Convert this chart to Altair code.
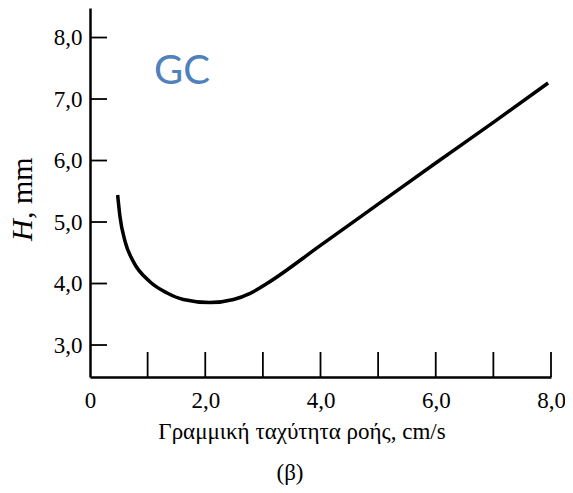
import altair as alt
import pandas as pd

# Van Deemter curve
flow = [0.48, 0.52, 0.61, 0.75, 1.04, 1.33, 1.62, 2.08, 2.49, 2.78, 3.07, 4.0, 5.0, 6.0, 7.0, 7.95]
plate = [5.44, 5.09, 4.68, 4.36, 4.03, 3.85, 3.74, 3.69, 3.74, 3.84, 4.00, 4.62, 5.29, 5.96, 6.62, 7.26]

x_tick_values = [1, 2, 3, 4, 5, 6, 7, 8]
x_label_values = [0, 2, 4, 6, 8]
y_tick_values = [3, 4, 5, 6, 7, 8]

x_title = "Γραμμική ταχύτητα ροής, cm/s"
sub_title = "(β)"
y_title_italic = "H"
y_title_rest = ", mm"
gc_label = "GC"

W, H = 461, 369
SERIF = "Liberation Serif"
label_expr = "datum.value == 0 ? '0' : replace(format(datum.value, '.1f'), '.', ',')"

curve = pd.DataFrame({"u": flow, "H": plate})
xt = pd.DataFrame({"u": x_tick_values})
yt = pd.DataFrame({"H": y_tick_values})

xscale = alt.Scale(domain=[0, 8], nice=False, zero=False)
yscale = alt.Scale(domain=[2.48, 8.48], nice=False, zero=False)

xaxis = alt.Axis(
    values=x_label_values, labelExpr=label_expr, ticks=False, grid=False,
    domainColor="black", domainWidth=2.5, labelFont=SERIF, labelFontSize=23,
    labelColor="black", labelPadding=12, labelFlush=False, labelOverlap=False,
    title=None)
yaxis = alt.Axis(
    values=y_tick_values, labelExpr=label_expr, ticks=False, grid=False,
    domainColor="black", domainWidth=2.5, labelFont=SERIF, labelFontSize=23,
    labelColor="black", labelPadding=8, labelFlush=False, labelOverlap=False,
    title=None)

line = alt.Chart(curve).mark_line(
    color="black", strokeWidth=3.5, interpolate="monotone"
).encode(
    x=alt.X("u:Q", scale=xscale, axis=xaxis),
    y=alt.Y("H:Q", scale=yscale, axis=yaxis),
)

xticks = alt.Chart(xt).mark_rule(color="black", strokeWidth=1.8).encode(
    x=alt.X("u:Q", scale=xscale, axis=xaxis),
    y=alt.value(H), y2=alt.value(H - 25),
)

yticks = alt.Chart(yt).mark_rule(color="black", strokeWidth=1.8).encode(
    y=alt.Y("H:Q", scale=yscale, axis=yaxis),
    x=alt.value(0), x2=alt.value(17),
)

def txt(s, x, y, **kw):
    return alt.Chart(pd.DataFrame({"t": [s]})).mark_text(**kw).encode(
        text="t:N", x=alt.value(x), y=alt.value(y))

t_x = txt(x_title, 212, 424, font=SERIF, fontSize=23, color="black", baseline="middle")
t_sub = txt(sub_title, 200, 465, font=SERIF, fontSize=23, color="black", baseline="middle")
t_h = txt(y_title_italic, -67, 233, font=SERIF, fontSize=30, fontStyle="italic",
          color="black", angle=270, align="left", baseline="middle")
t_mm = txt(y_title_rest, -67, 211, font=SERIF, fontSize=30,
           color="black", angle=270, align="left", baseline="middle")
t_gc = txt(gc_label, 92, 64, font="Lato", fontSize=40, color="#4f81bd", baseline="middle")

chart = alt.layer(line, xticks, yticks, t_x, t_sub, t_h, t_mm, t_gc).properties(
    width=W, height=H,
    background="white",
    autosize=alt.AutoSizeParams(type="none"),
    padding={"left": 82, "top": 0, "right": 14, "bottom": 108},
).configure_view(strokeWidth=0, stroke="transparent")

chart.save("out.html", embed_options={"renderer": "svg", "actions": False})
